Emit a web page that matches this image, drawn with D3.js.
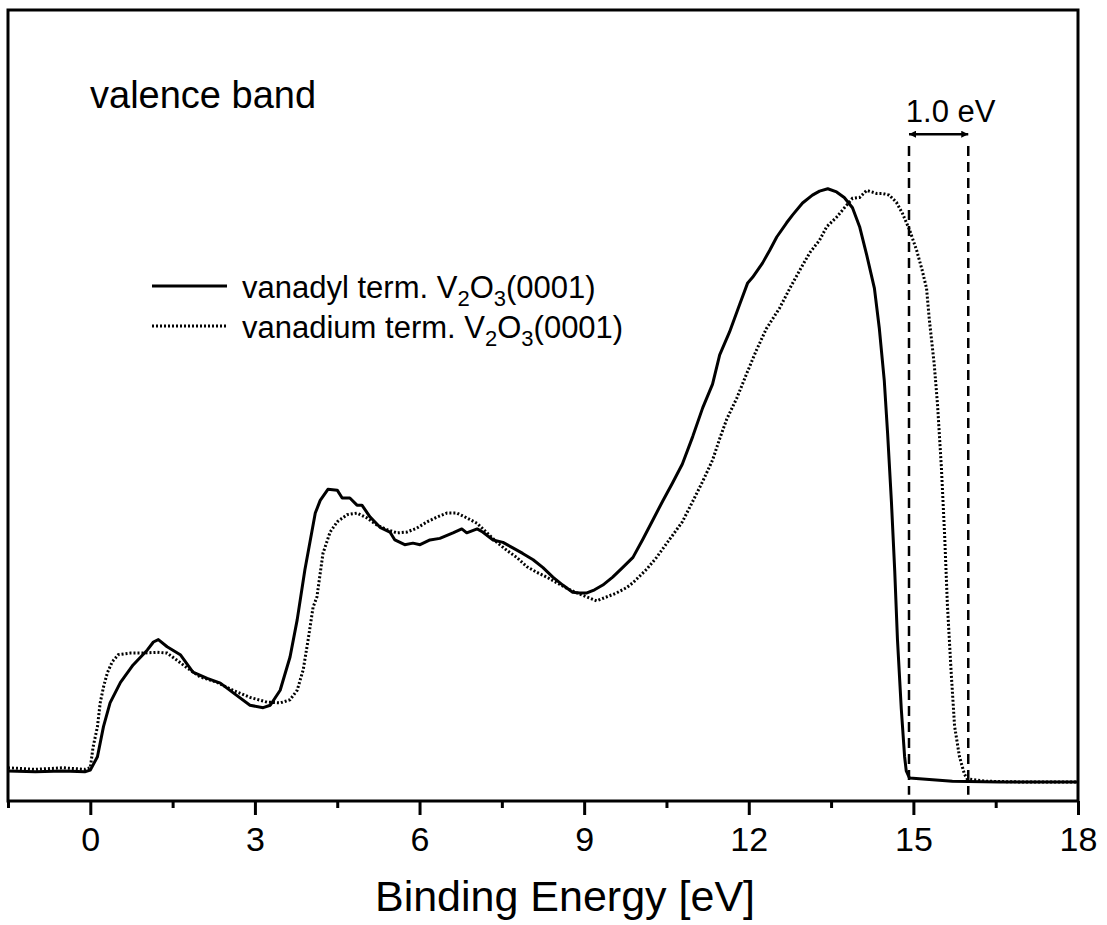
<!DOCTYPE html>
<meta http-equiv="Content-type" content="text/html; charset=UTF-8"/>
<svg width="1107" height="925"></svg>
<script src="https://d3js.org/d3.v7.min.js"></script>
<style>
  body { margin: 0; background: #fff; }
  * { font-family: 'Liberation Sans', Arial, sans-serif; }
</style>
<script>
// vanadyl terminated V2O3(0001), binding energy [eV] and intensity [arb. units]
var vanadylE = [-1.5,-1.0,-0.5,-0.1,0.0,0.13,0.24,0.36,0.55,0.78,1.04,1.15,1.24,1.40,1.64,1.87,2.13,2.37,2.60,2.91,
  3.15,3.28,3.46,3.64,3.77,3.91,4.10,4.19,4.33,4.50,4.59,4.73,4.86,4.95,5.10,5.28,5.46,5.55,5.73,5.88,
  6.01,6.19,6.37,6.61,6.77,6.86,7.05,7.15,7.34,7.52,7.70,7.88,8.07,8.25,8.43,8.61,8.79,8.92,9.05,9.19,
  9.34,9.52,9.70,9.89,10.07,10.25,10.43,10.61,10.79,10.98,11.16,11.34,11.47,11.65,11.83,11.98,12.07,12.25,12.38,12.51,
  12.69,12.80,12.98,13.16,13.29,13.44,13.60,13.74,13.89,14.02,14.15,14.29,14.38,14.47,14.53,14.60,14.66,14.71,14.78,14.84,
  14.87,14.93,15.11,15.71,16.57,17.3,18.0];
var vanadylI = [38,37,38,37,39,56,94,124,150,172,191,201,204,195,185,163,155,149,137,121,
  118,121,140,182,229,292,364,380,394,393,383,383,374,374,359,346,340,330,324,326,
  324,330,332,339,344,339,344,340,330,327,320,313,305,295,283,273,264,263,263,267,
  273,283,295,308,331,355,379,402,426,461,497,527,564,593,627,655,662,680,696,713,
  731,741,756,766,771,774,770,763,750,726,690,648,597,531,465,378,291,204,116,56,
  38,29,28,25,24,24,24];

// vanadium terminated V2O3(0001)
var vanadiumE = [-1.5,-1.0,-0.5,-0.1,0.0,0.05,0.13,0.18,0.24,0.31,0.40,0.51,0.73,0.96,1.22,1.40,1.58,1.77,2.00,2.31,
  2.60,2.91,3.22,3.46,3.64,3.77,3.88,3.97,4.06,4.13,4.24,4.37,4.50,4.68,4.86,5.04,5.22,5.41,5.59,5.77,
  5.95,6.14,6.32,6.50,6.68,6.86,7.05,7.23,7.41,7.59,7.77,7.96,8.14,8.32,8.50,8.68,8.87,9.05,9.23,9.41,
  9.59,9.78,9.89,10.14,10.32,10.56,10.79,10.98,11.16,11.34,11.47,11.60,11.78,11.96,12.14,12.32,12.56,12.74,12.93,13.11,
  13.29,13.42,13.60,13.78,13.89,14.02,14.15,14.33,14.44,14.56,14.69,14.80,14.93,15.06,15.16,15.24,15.29,15.38,15.44,15.51,
  15.57,15.62,15.69,15.75,15.84,15.93,15.98,16.33,17.0,18.0];
var vanadiumI = [42,40,42,40,42,68,94,124,144,162,176,185,187,187,188,187,178,168,157,150,
  140,131,125,124,128,140,166,204,245,258,313,340,353,362,364,358,349,343,339,340,
  345,353,359,364,364,358,351,339,327,317,308,296,289,283,276,269,263,258,253,258,
  263,270,276,293,308,331,353,379,404,431,458,483,509,540,570,597,623,647,671,693,
  709,726,738,753,762,763,772,768,768,766,757,743,722,696,671,648,609,552,501,422,
  335,248,161,95,56,34,28,25,24,24];

var seriesNames = ["vanadyl term. V", "vanadium term. V"];
var majorTicks = [0, 3, 6, 9, 12, 15, 18];
var minorTicks = [-1.5, 1.5, 4.5, 7.5, 10.5, 13.5, 16.5];
var shiftEdges = [14.92, 16.0];   // onset positions of the two spectra
var shiftLabel = "1.0 eV";

var svg = d3.select("svg"),
    margin = {top: 10, right: 29, bottom: 124, left: 8},
    width = +svg.attr("width") - margin.left - margin.right,
    height = +svg.attr("height") - margin.top - margin.bottom,
    g = svg.append("g").attr("transform", "translate(" + margin.left + "," + margin.top + ")");

var x = d3.scaleLinear().domain([-1.5, 18]).range([0, width]);
var y = d3.scaleLinear().domain([0, 1000]).range([height, 0]);

var line = d3.line()
    .x(function(d) { return x(d[0]); })
    .y(function(d) { return y(d[1]); });

var vanadyl = d3.zip(vanadylE, vanadylI),
    vanadium = d3.zip(vanadiumE, vanadiumI);

// dashed markers of the edge shift
g.selectAll(".edge")
  .data(shiftEdges)
  .enter().append("line")
    .attr("x1", function(d) { return x(d); })
    .attr("x2", function(d) { return x(d); })
    .attr("y1", y(828))
    .attr("y2", y(8))
    .attr("stroke", "#000")
    .attr("stroke-width", 2.5)
    .attr("stroke-dasharray", "10,6");

g.append("path")
    .datum(vanadium)
    .attr("fill", "none")
    .attr("stroke", "#000")
    .attr("stroke-width", 3)
    .attr("stroke-dasharray", "2,2")
    .attr("d", line);

g.append("path")
    .datum(vanadyl)
    .attr("fill", "none")
    .attr("stroke", "#000")
    .attr("stroke-width", 3)
    .attr("stroke-linejoin", "round")
    .attr("d", line);

// axes
var ax = g.append("g")
    .attr("transform", "translate(0," + height + ")")
    .call(d3.axisBottom(x).tickValues(majorTicks).tickSize(14).tickFormat(d3.format("d")))
    .attr("font-size", 34);
ax.select(".domain").remove();
ax.selectAll(".tick line").attr("stroke-width", 3);
ax.selectAll(".tick text")
    .attr("y", 50).attr("dy", 0)
    .attr("fill", "#000");

var axm = g.append("g")
    .attr("transform", "translate(0," + height + ")")
    .call(d3.axisBottom(x).tickValues(minorTicks).tickSize(7).tickFormat(""));
axm.select(".domain").remove();
axm.selectAll(".tick line").attr("stroke-width", 3);

g.append("rect")
    .attr("width", width)
    .attr("height", height)
    .attr("fill", "none")
    .attr("stroke", "#000")
    .attr("stroke-width", 3);

g.append("text")
    .attr("x", 557)
    .attr("y", height + 110)
    .attr("text-anchor", "middle")
    .style("font-size", "43px")
    .text("Binding Energy [eV]");

g.append("text")
    .attr("x", 82)
    .attr("y", 98)
    .style("font-size", "38px")
    .text("valence band");

// shift arrow
var defs = svg.append("defs");
["start", "end"].forEach(function(k) {
  defs.append("marker")
      .attr("id", "arr-" + k)
      .attr("viewBox", "0 0 10 10")
      .attr("refX", k == "end" ? 10 : 0).attr("refY", 5)
      .attr("markerWidth", 12).attr("markerHeight", 7)
      .attr("markerUnits", "userSpaceOnUse")
      .attr("orient", "auto")
    .append("path")
      .attr("d", k == "end" ? "M0,0L10,5L0,10z" : "M10,0L0,5L10,10z")
      .attr("fill", "#000");
});
g.append("line")
    .attr("x1", x(shiftEdges[0])).attr("x2", x(shiftEdges[1]))
    .attr("y1", y(843)).attr("y2", y(843))
    .attr("stroke", "#000").attr("stroke-width", 2.5)
    .attr("marker-start", "url(#arr-start)")
    .attr("marker-end", "url(#arr-end)");
g.append("text")
    .attr("x", (x(shiftEdges[0]) + x(shiftEdges[1])) / 2 + 12)
    .attr("y", 112)
    .attr("text-anchor", "middle")
    .style("font-size", "31px")
    .text(shiftLabel);

// legend
var leg = g.append("g").attr("transform", "translate(144,276)");
[0, 1].forEach(function(i) {
  var row = leg.append("g").attr("transform", "translate(0," + (i * 40) + ")");
  row.append("line")
      .attr("x1", 0).attr("x2", 75)
      .attr("stroke", "#000").attr("stroke-width", 3)
      .attr("stroke-dasharray", i == 1 ? "2,2" : null);
  var t = row.append("text")
      .attr("x", 90).attr("y", 12)
      .style("font-size", "31px");
  t.append("tspan").text(seriesNames[i]);
  t.append("tspan").attr("dy", 8).style("font-size", "22px").text("2");
  t.append("tspan").attr("dy", -8).text("O");
  t.append("tspan").attr("dy", 8).style("font-size", "22px").text("3");
  t.append("tspan").attr("dy", -8).text("(0001)");
});
</script>
